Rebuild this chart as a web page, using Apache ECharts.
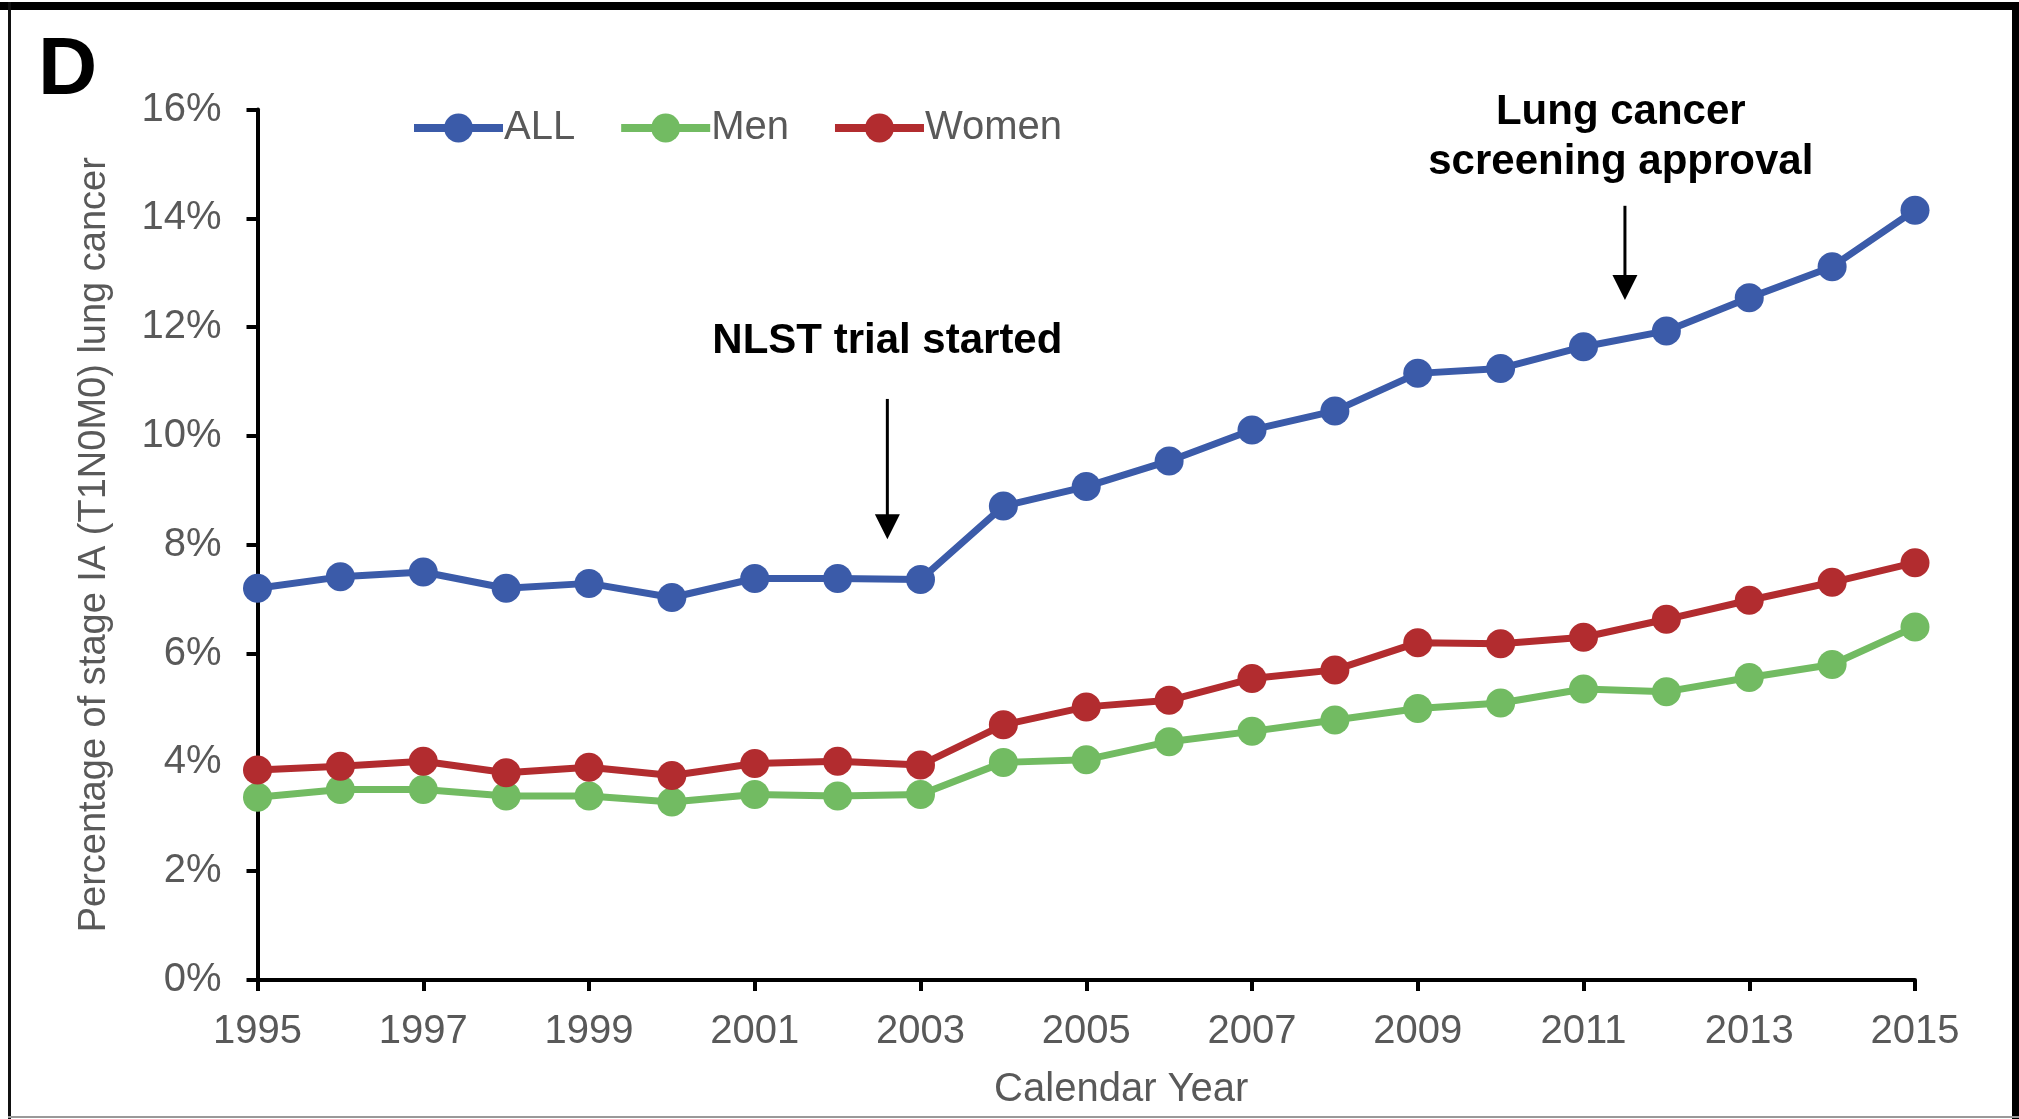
<!DOCTYPE html>
<html>
<head>
    <meta charset="utf-8">
    <title></title>
    <script src="https://cdn.jsdelivr.net/npm/echarts@6/dist/echarts.min.js"></script>
    <style>
        body{
            margin: 0;
            background: #fff;
        }
        #chart{
            width: 2019px;
            height: 1119px;
        }
    </style>
</head>
<body>
<div id="chart"></div>
<script>
    var years = [1995, 1996, 1997, 1998, 1999, 2000, 2001, 2002, 2003, 2004, 2005,
                 2006, 2007, 2008, 2009, 2010, 2011, 2012, 2013, 2014, 2015];
    var allPct   = [7.20, 7.41, 7.50, 7.20, 7.29, 7.03, 7.38, 7.38, 7.36, 8.71, 9.07,
                    9.54, 10.11, 10.46, 11.15, 11.24, 11.64, 11.93, 12.54, 13.11, 14.15];
    var menPct   = [3.36, 3.50, 3.50, 3.38, 3.38, 3.27, 3.41, 3.38, 3.41, 4.00, 4.05,
                    4.38, 4.57, 4.78, 4.99, 5.09, 5.35, 5.30, 5.56, 5.80, 6.49];
    var womenPct = [3.86, 3.93, 4.02, 3.81, 3.91, 3.76, 3.98, 4.02, 3.95, 4.69, 5.02,
                    5.14, 5.54, 5.70, 6.20, 6.18, 6.30, 6.63, 6.98, 7.31, 7.67];
    var seriesNames = ['ALL', 'Men', 'Women'];

    // annotations (year, percent): arrow from -> tip
    var arrows = [
        [[2002.6, 10.68], [2002.6, 8.10]],
        [[2011.5, 14.23], [2011.5, 12.50]]
    ];
    var nlstText = [2002.6, 11.74];
    var lcsText  = [2011.45, 15.49];

    function pairs(vals) {
        return years.map(function (y, i) { return [y, vals[i]]; });
    }

    var grey = '#595959';
    var font = 'Liberation Sans, Arial, sans-serif';

    function lineSeries(name, color, vals) {
        return {
            name: name,
            type: 'line',
            data: pairs(vals),
            symbol: 'circle',
            symbolSize: 29,
            lineStyle: { color: color, width: 7 },
            itemStyle: { color: color },
            emphasis: { disabled: true }
        };
    }

    var sAll = lineSeries(seriesNames[0], '#3b5ba9', allPct);
    sAll.markPoint = {
        silent: true,
        symbolSize: 0,
        label: {
            show: true,
            position: 'inside',
            color: '#000',
            fontFamily: font,
            fontWeight: 'bold',
            fontSize: 42,
            lineHeight: 50,
            align: 'center'
        },
        data: [
            { coord: nlstText, value: 'NLST trial started', label: { formatter: 'NLST trial started' } },
            { coord: lcsText, value: 'x', label: { formatter: 'Lung cancer\nscreening approval' } }
        ]
    };

    var frame = [
        { type: 'rect', shape: { x: 0, y: 2, width: 2019, height: 8 }, style: { fill: '#000' } },
        { type: 'rect', shape: { x: 8, y: 2, width: 3, height: 1117 }, style: { fill: '#111' } },
        { type: 'rect', shape: { x: 2012, y: 2, width: 7, height: 1117 }, style: { fill: '#000' } },
        { type: 'rect', shape: { x: 8, y: 1116, width: 2011, height: 2 }, style: { fill: '#999' } },
        { type: 'text', left: 38, top: 30,
          style: { text: 'D', fill: '#000', fontSize: 82, fontWeight: 'bold', fontFamily: font } }
    ];

    var option = {
        animation: false,
        grid: { left: 257.5, right: 104, top: 109.5, bottom: 139 },
        legend: {
            data: seriesNames,
            left: 405,
            top: 103,
            itemWidth: 89,
            itemHeight: 36,
            itemGap: 42,
            lineStyle: { width: 8 },
            textStyle: { color: grey, fontSize: 40, fontFamily: font, padding: [0, 0, 0, -4] }
        },
        xAxis: {
            type: 'value',
            min: 1995,
            max: 2015,
            interval: 2,
            name: 'Calendar Year',
            nameLocation: 'middle',
            nameGap: 90,
            nameTextStyle: { color: grey, fontSize: 40, fontFamily: font, padding: [0, 0, 0, 70] },
            axisLine: { lineStyle: { color: '#000', width: 4 } },
            axisTick: { length: 11, lineStyle: { color: '#000', width: 4 } },
            axisLabel: { color: grey, fontSize: 40, fontFamily: font, margin: 32,
                         formatter: function (v) { return String(v); } },
            splitLine: { show: false }
        },
        yAxis: {
            type: 'value',
            min: 0,
            max: 16,
            interval: 2,
            name: 'Percentage of stage IA (T1N0M0) lung cancer',
            nameLocation: 'middle',
            nameGap: 144,
            nameTextStyle: { color: grey, fontSize: 38, fontFamily: font },
            axisLine: { show: true, lineStyle: { color: '#000', width: 4 } },
            axisTick: { show: true, length: 11, lineStyle: { color: '#000', width: 4 } },
            axisLabel: { color: grey, fontSize: 40, fontFamily: font, margin: 36,
                         formatter: '{value}%' },
            splitLine: { show: false }
        },
        graphic: frame,
        series: [
            sAll,
            lineSeries(seriesNames[1], '#72bb62', menPct),
            lineSeries(seriesNames[2], '#b22c2f', womenPct)
        ]
    };

    var myChart = echarts.init(document.getElementById('chart'));
    myChart.setOption(option);

    // arrows: positions come from the axes
    var head = 25;
    var extra = [];
    arrows.forEach(function (a) {
        var p0 = myChart.convertToPixel({ gridIndex: 0 }, a[0]);
        var p1 = myChart.convertToPixel({ gridIndex: 0 }, a[1]);
        extra.push({ type: 'line', shape: { x1: p0[0], y1: p0[1], x2: p1[0], y2: p1[1] - head + 2 },
                     style: { stroke: '#000', lineWidth: 3 } });
        extra.push({ type: 'polygon',
                     shape: { points: [[p1[0] - head / 2, p1[1] - head], [p1[0] + head / 2, p1[1] - head], [p1[0], p1[1]]] },
                     style: { fill: '#000' } });
    });
    myChart.setOption({ graphic: frame.concat(extra) });
</script>
</body>
</html>
